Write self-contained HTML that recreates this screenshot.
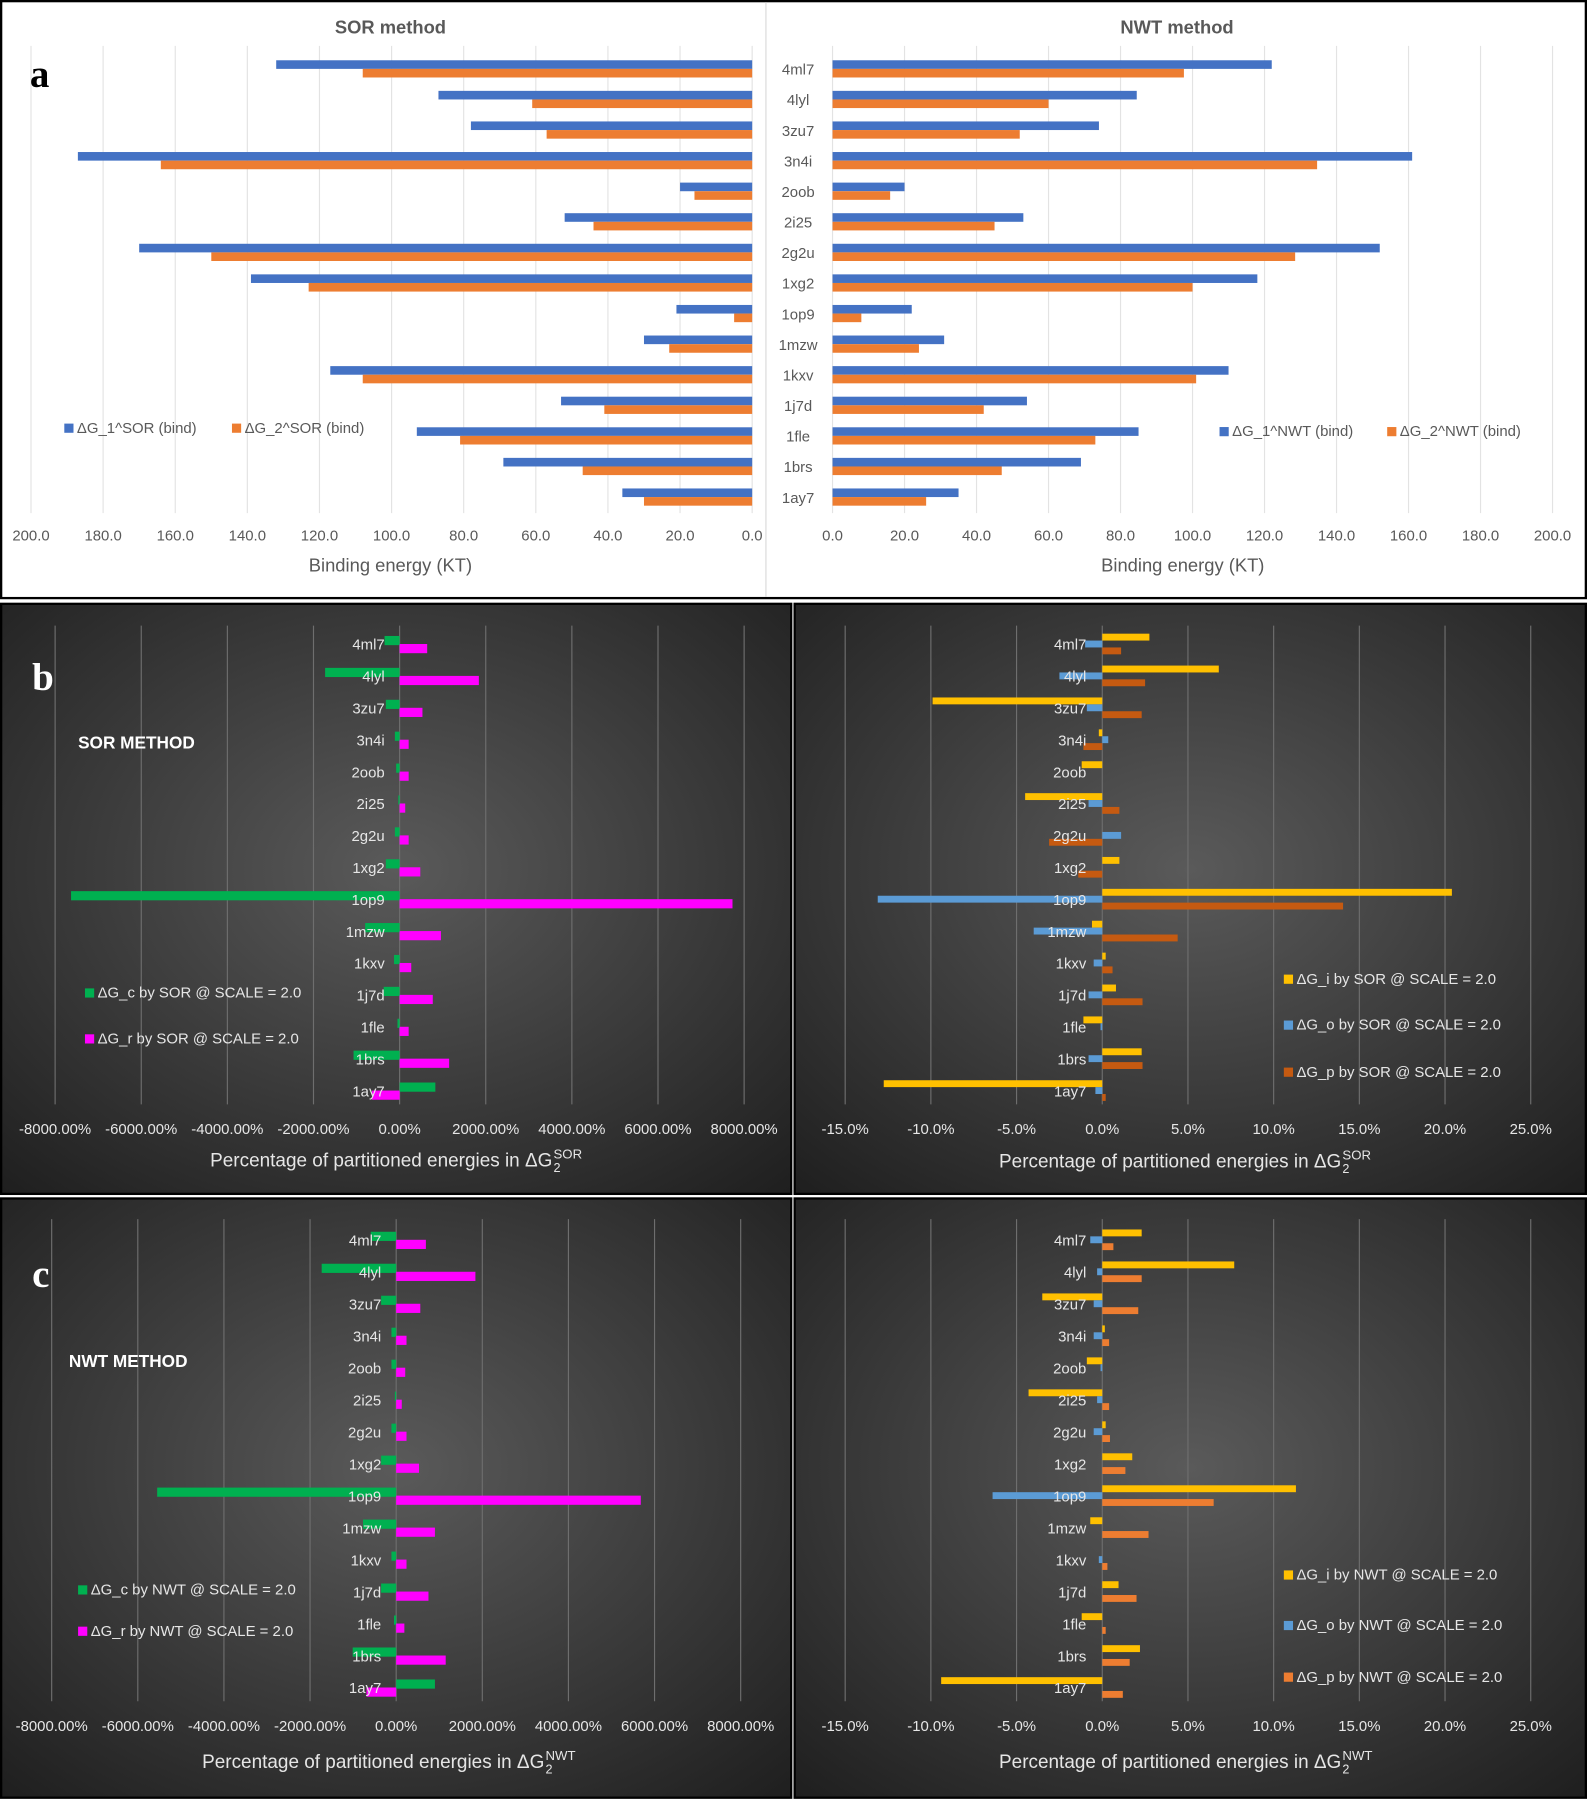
<!DOCTYPE html>
<html><head><meta charset="utf-8"><style>
html,body{margin:0;padding:0;background:#fff;}
svg{display:block;font-family:"Liberation Sans",sans-serif;}
</style></head><body>
<svg id="fig" width="1587" height="1800" viewBox="0 0 1382 1568" preserveAspectRatio="none" xmlns="http://www.w3.org/2000/svg">
<defs>
<radialGradient id="dark" cx="50%" cy="45%" r="75%">
<stop offset="0" stop-color="#5a5a5a"/><stop offset="1" stop-color="#1e1e1e"/>
</radialGradient>
</defs>
<rect x="0" y="0" width="1382" height="1568" fill="#fff"/>
<rect x="1" y="1" width="1380" height="520" fill="#fff" stroke="#000" stroke-width="2"/>
<line x1="667" y1="2" x2="667" y2="520" stroke="#d9d9d9"/>
<rect x="1" y="526" width="688" height="514" fill="url(#dark)" stroke="#000" stroke-width="2"/>
<rect x="692" y="526" width="689" height="514" fill="url(#dark)" stroke="#000" stroke-width="2"/>
<rect x="1" y="1044" width="688" height="522" fill="url(#dark)" stroke="#000" stroke-width="2"/>
<rect x="692" y="1044" width="689" height="522" fill="url(#dark)" stroke="#000" stroke-width="2"/>
<g id="g"></g>
<text x="26" y="76" font-family="Liberation Serif" font-weight="bold" font-size="34" fill="#000">a</text>
<text x="28" y="601" font-family="Liberation Serif" font-weight="bold" font-size="34" fill="#fff">b</text>
<text x="28" y="1121" font-family="Liberation Serif" font-weight="bold" font-size="34" fill="#fff">c</text>
<text x="68" y="652" font-weight="bold" font-size="15" fill="#fff">SOR METHOD</text>
<text x="60" y="1191" font-weight="bold" font-size="15" fill="#fff">NWT METHOD</text>
</svg>
<script>
const categories = ["4ml7","4lyl","3zu7","3n4i","2oob","2i25","2g2u","1xg2","1op9","1mzw","1kxv","1j7d","1fle","1brs","1ay7"];
const sorG1 = [132,87,78,187,20,52,170,139,21,30,117,53,93,69,36];
const sorG2 = [108,61,57,164,16,44,150,123,5,23,108,41,81,47,30];
const nwtG1 = [122,84.5,74,161,20,53,152,118,22,31,110,54,85,69,35];
const nwtG2 = [97.6,60,52,134.6,16,45,128.5,100,8,24,101,42,73,47,26];
const bindTicks = ["0.0","20.0","40.0","60.0","80.0","100.0","120.0","140.0","160.0","180.0","200.0"];
const sorGc = [-350,-1730,-320,-110,-80,-30,-110,-320,-7630,-800,-130,-370,-50,-1070,830];
const sorGr = [640,1840,530,210,210,130,210,480,7730,960,270,770,210,1150,-640];
const nwtGc = [-590,-1730,-350,-110,-110,-30,-110,-350,-5550,-770,-110,-350,-50,-1010,900];
const nwtGr = [690,1840,560,240,210,130,240,530,5680,900,240,750,190,1150,-690];
const pctTicks = ["-8000.00%","-6000.00%","-4000.00%","-2000.00%","0.00%","2000.00%","4000.00%","6000.00%","8000.00%"];
const sorGi = [2.75,6.8,-9.9,-0.2,-1.2,-4.5,0,1.0,20.4,-0.6,0.2,0.8,-1.1,2.3,-12.75];
const sorGo = [-1.0,-2.5,-0.9,0.35,0,-0.8,1.1,0,-13.1,-4.0,-0.5,-0.8,-0.1,-0.8,-0.4];
const sorGp = [1.1,2.5,2.3,-1.1,0,1.0,-3.1,-1.4,14.05,4.4,0.6,2.35,0,2.35,0.2];
const nwtGi = [2.3,7.7,-3.5,0.15,-0.9,-4.3,0.2,1.75,11.3,-0.7,0,0.95,-1.2,2.2,-9.4];
const nwtGo = [-0.7,-0.3,-0.5,-0.5,-0.1,-0.3,-0.5,0,-6.4,0,-0.2,0,0,0,0];
const nwtGp = [0.65,2.3,2.1,0.4,0,0.4,0.45,1.35,6.5,2.7,0.3,2.0,0.2,1.6,1.2];
const fracTicks = ["-15.0%","-10.0%","-5.0%","0.0%","5.0%","10.0%","15.0%","20.0%","25.0%"];

const NS="http://www.w3.org/2000/svg", G=document.getElementById('g');
function el(tag,attrs,txt){const e=document.createElementNS(NS,tag);for(const k in attrs)e.setAttribute(k,attrs[k]);if(txt!==undefined)e.textContent=txt;G.appendChild(e);return e;}

function chart(o){
  const xs=v=>o.x0+(v-o.vmin)*(o.x1-o.x0)/(o.vmax-o.vmin);
  const ys=i=>o.yTop+i*(o.yBot-o.yTop)/(categories.length-1);
  o.ticks.forEach((t,k)=>{
    const v=o.vmin+k*(o.vmax-o.vmin)/(o.ticks.length-1);
    const g=el('line',{x1:xs(v),x2:xs(v),y1:o.gy0,y2:o.gy1,stroke:o.grid,'stroke-width':1});
    
    
    const tl=el('text',{x:xs(v),y:o.tickY,'text-anchor':'middle','font-size':13,fill:o.fg},t);
    
    
  });
  categories.forEach((c,i)=>{
    const yc=ys(i);
    o.series.forEach((s,j)=>{
      const v=s.data[i]; const a=xs(0), b=xs(v);
      const y=yc+o.offs[j];
      const r=el('rect',{x:Math.min(a,b),y:y,width:Math.abs(b-a),height:o.bh,fill:s.color});
      
      
    });
    const lb=el('text',{x:o.labX,y:yc+5,'text-anchor':o.labAnchor,'font-size':13,fill:o.fg},c);
    
    
  });
  if(o.sup){
    const ttl=el('text',{x:o.titleStart,y:o.titleY,'font-size':16.5,fill:o.fg},o.title);
    
    
    const sx=o.titleStart+ttl.getComputedTextLength()+1;
    const s1=el('text',{x:sx,y:o.titleY-7,'font-size':11.5,fill:o.fg},o.sup);
    
    
    const s2=el('text',{x:sx,y:o.titleY+5,'font-size':11,fill:o.fg},'2');
    
    
  } else {
    const ttl=el('text',{x:o.titleX,y:o.titleY,'text-anchor':'middle','font-size':16,fill:o.fg},o.title);
    
    
  }
  o.legend.forEach(L=>{
    const sq=el('rect',{x:L.x,y:L.y-5,width:8,height:8,fill:L.color});
    
    
    const lt=el('text',{x:L.x+11,y:L.y+3,'font-size':13,fill:o.fg},L.text);
    
    
  });
}
const BL="#4472c4",OR="#ed7d31";
[["SOR method",340],["NWT method",1025]].forEach(t=>{
  const e=el('text',{x:t[1],y:29,'text-anchor':'middle','font-size':16,'font-weight':'bold',fill:'#595959'},t[0]);
  
  
});
chart({x0:655,x1:27,vmin:0,vmax:200,ticks:bindTicks,yTop:60,yBot:433,gy0:40,gy1:447,grid:"#e3e3e3",tickY:471,fg:"#595959",
  series:[{key:'g1-sor',data:sorG1,color:BL},{key:'g2-sor',data:sorG2,color:OR}],offs:[-7.5,0],bh:7.5,
  labX:695,labAnchor:'middle',title:"Binding energy (KT)",titleX:340,titleY:498,
  legend:[{x:56,y:374,color:BL,text:"ΔG_1^SOR (bind)"},{x:202,y:374,color:OR,text:"ΔG_2^SOR (bind)"}]});
chart({x0:725,x1:1352,vmin:0,vmax:200,ticks:bindTicks,yTop:60,yBot:433,gy0:40,gy1:447,grid:"#e3e3e3",tickY:471,fg:"#595959",
  series:[{key:'g1-nwt',data:nwtG1,color:BL},{key:'g2-nwt',data:nwtG2,color:OR}],offs:[-7.5,0],bh:7.5,
  labX:-100,labAnchor:'middle',title:"Binding energy (KT)",titleX:1030,titleY:498,
  legend:[{x:1062,y:377,color:BL,text:"ΔG_1^NWT (bind)"},{x:1208,y:377,color:OR,text:"ΔG_2^NWT (bind)"}]});
const GR="#00b050",MG="#ff00ff",YE="#ffc000",SB="#5b9bd5",DO="#c55a11",LO="#ed7d31",FG="#e6e6e6",GRID="#6e6e6e";
chart({x0:48,x1:648,vmin:-8000,vmax:8000,ticks:pctTicks,yTop:561,yBot:950,gy0:545,gy1:962,grid:GRID,tickY:988,fg:FG,
  series:[{key:'gc-sor',data:sorGc,color:GR},{key:'gr-sor',data:sorGr,color:MG}],offs:[-7,0],bh:8,
  labX:335,labAnchor:'end',title:"Percentage of partitioned energies in ΔG",titleStart:183,titleY:1016,sup:"SOR",
  legend:[{x:74,y:866,color:GR,text:"ΔG_c by SOR @ SCALE = 2.0"},{x:74,y:906,color:MG,text:"ΔG_r by SOR @ SCALE = 2.0"}]});
chart({x0:736,x1:1333,vmin:-15,vmax:25,ticks:fracTicks,yTop:561,yBot:950,gy0:545,gy1:962,grid:GRID,tickY:988,fg:FG,
  series:[{key:'gi-sor',data:sorGi,color:YE},{key:'go-sor',data:sorGo,color:SB},{key:'gp-sor',data:sorGp,color:DO}],offs:[-9,-3,3],bh:6,
  labX:946,labAnchor:'end',title:"Percentage of partitioned energies in ΔG",titleStart:870,titleY:1017,sup:"SOR",
  legend:[{x:1118,y:854,color:YE,text:"ΔG_i by SOR @ SCALE = 2.0"},{x:1118,y:894,color:SB,text:"ΔG_o by SOR @ SCALE = 2.0"},{x:1118,y:935,color:DO,text:"ΔG_p by SOR @ SCALE = 2.0"}]});
chart({x0:45,x1:645,vmin:-8000,vmax:8000,ticks:pctTicks,yTop:1080,yBot:1470,gy0:1062,gy1:1482,grid:GRID,tickY:1508,fg:FG,
  series:[{key:'gc-nwt',data:nwtGc,color:GR},{key:'gr-nwt',data:nwtGr,color:MG}],offs:[-7,0],bh:8,
  labX:332,labAnchor:'end',title:"Percentage of partitioned energies in ΔG",titleStart:176,titleY:1540,sup:"NWT",
  legend:[{x:68,y:1386,color:GR,text:"ΔG_c by NWT @ SCALE = 2.0"},{x:68,y:1422,color:MG,text:"ΔG_r by NWT @ SCALE = 2.0"}]});
chart({x0:736,x1:1333,vmin:-15,vmax:25,ticks:fracTicks,yTop:1080,yBot:1470,gy0:1062,gy1:1482,grid:GRID,tickY:1508,fg:FG,
  series:[{key:'gi-nwt',data:nwtGi,color:YE},{key:'go-nwt',data:nwtGo,color:SB},{key:'gp-nwt',data:nwtGp,color:LO}],offs:[-9,-3,3],bh:6,
  labX:946,labAnchor:'end',title:"Percentage of partitioned energies in ΔG",titleStart:870,titleY:1540,sup:"NWT",
  legend:[{x:1118,y:1373,color:YE,text:"ΔG_i by NWT @ SCALE = 2.0"},{x:1118,y:1417,color:SB,text:"ΔG_o by NWT @ SCALE = 2.0"},{x:1118,y:1462,color:LO,text:"ΔG_p by NWT @ SCALE = 2.0"}]});
</script>
</body></html>
